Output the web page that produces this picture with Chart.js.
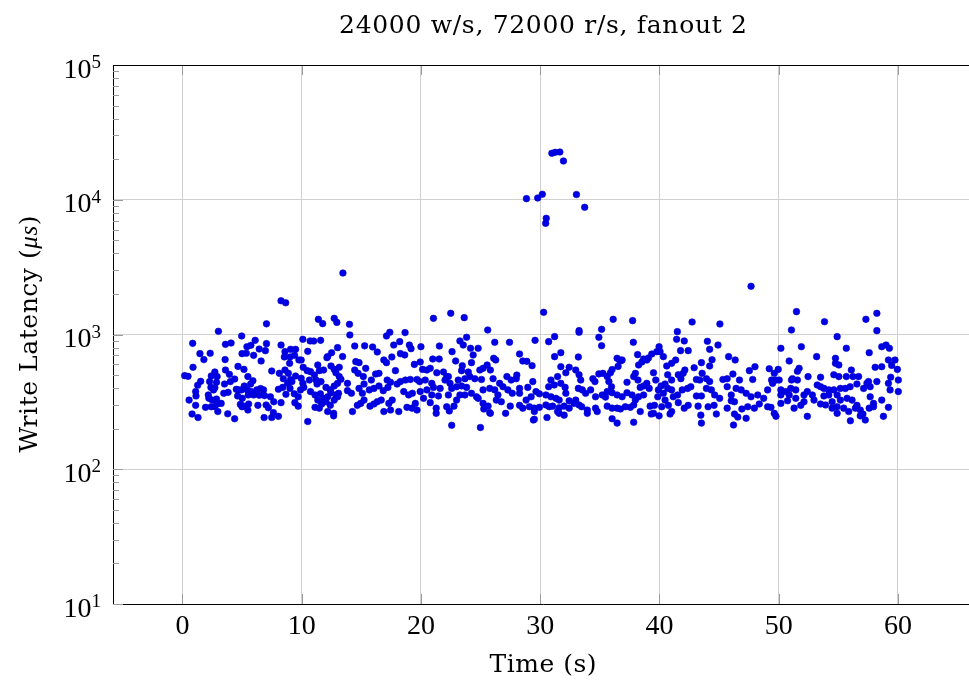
<!DOCTYPE html>
<html>
<head>
<meta charset="utf-8">
<title>Write latency - fanout 2</title>
<script src="https://cdn.jsdelivr.net/npm/chart.js@4.4.0/dist/chart.umd.min.js"></script>
<style>
    html, body { margin: 0; padding: 0; background: #fff; overflow: hidden; }
    #chartContainer { width: 977px; height: 684px; }
</style>
</head>
<body>
<div id="chartContainer"><canvas id="myChart" width="977" height="684"></canvas></div>
<script>
// samples: [time (s), write latency (us)]
// one array per ~10 s window, plus the spike around 30 s
const samples00 = [
    [8.27,1780],[8.66,1720],[7.05,1200],[3.02,1056],[4.97,975],[0.86,860],[3.61,845],[4.08,864],[6.10,905],[7.05,855],
    [5.74,831],[5.41,812],[8.27,835],[6.44,780],[6.96,759],[5.36,725],[5.00,721],[5.97,700],[1.47,721],[2.33,725],
    [1.80,651],[3.58,651],[6.60,636],[8.60,746],[9.07,776],[9.49,776],[8.55,681],[9.02,681],[9.40,700],[0.89,571],
    [8.99,611],[9.77,647],[3.61,545],[4.66,580],[5.16,551],[7.49,536],[0.19,495],[0.47,489],[2.72,527],[2.42,492],
    [2.91,487],[3.94,506],[4.38,467],[4.02,447],[5.49,487],[5.91,454],[5.72,429],[1.53,449],[1.28,420],[2.28,447],
    [2.86,442],[2.39,405],[2.72,403],[3.53,429],[4.52,392],[5.19,415],[4.94,388],[8.13,515],[8.60,545],[8.88,515],
    [8.46,470],[9.07,464],[9.49,492],[8.82,434],[9.18,447],[1.11,377],[1.14,350],[2.17,356],[2.61,388],[3.47,366],
    [3.83,372],[4.69,388],[5.44,388],[5.77,377],[6.24,388],[6.55,397],[6.80,388],[8.05,392],[8.41,405],[9.02,398],
    [0.56,326],[2.22,336],[2.50,326],[2.86,332],[2.91,305],[4.63,350],[5.02,336],[5.52,356],[5.97,356],[6.44,354],
    [6.88,352],[7.38,345],[7.66,317],[8.68,360],[9.38,363],[9.71,345],[1.11,298],[1.94,288],[2.42,291],[2.72,291],
    [3.25,308],[4.86,303],[5.13,294],[5.55,305],[6.33,298],[7.02,300],[7.21,286],[8.27,312],[9.43,312],[9.71,294],
    [0.81,257],[1.31,242],[2.97,268],[3.80,258],[4.38,237],[5.00,291],[5.49,275],[6.85,242],[7.49,242],[8.05,247],
    [7.63,263]
];
const samples10 = [
    [11.40,1296],[11.76,1204],[12.73,1318],[12.95,1230],[14.01,1190],[14.04,992],[10.10,921],[10.71,896],[11.01,894],[11.59,905],
    [10.51,750],[13.01,799],[12.51,733],[12.12,673],[12.18,686],[13.43,686],[14.45,821],[15.28,824],[15.95,808],[16.34,742],
    [17.11,975],[17.39,1038],[17.72,835],[18.22,885],[18.67,1033],[19.03,835],[19.17,785],[18.28,721],[18.64,705],[17.56,681],
    [16.89,647],[17.11,618],[9.96,647],[10.13,571],[10.46,539],[10.74,530],[11.07,500],[11.35,594],[11.48,539],[11.84,545],
    [12.46,584],[12.73,551],[12.87,520],[13.15,571],[13.15,487],[13.29,465],[13.84,434],[14.54,629],[14.81,618],[14.45,545],
    [14.73,515],[15.17,487],[15.37,561],[15.23,429],[15.84,459],[16.20,509],[16.48,515],[9.96,473],[10.10,434],[10.18,405],
    [10.65,459],[9.90,388],[11.21,459],[11.29,429],[11.62,447],[12.04,405],[12.40,388],[12.73,415],[13.01,434],[10.74,377],
    [11.12,356],[11.57,363],[11.84,336],[12.18,345],[12.46,370],[12.87,356],[13.09,366],[13.84,383],[14.17,366],[14.81,398],
    [15.09,366],[15.67,388],[16.06,398],[16.48,415],[16.84,383],[17.23,405],[17.17,459],[17.45,442],[18.00,429],[18.28,447],
    [18.70,459],[19.11,464],[17.86,539],[18.56,377],[18.97,356],[19.28,366],[11.35,326],[11.68,305],[12.04,317],[12.40,298],
    [12.73,326],[13.01,345],[11.12,288],[11.48,284],[12.18,268],[12.68,260],[12.68,249],[14.26,268],[14.67,298],[14.95,308],
    [15.23,326],[15.73,294],[16.06,305],[16.34,317],[16.67,326],[16.89,268],[17.45,275],[18.14,268],[17.31,308],[17.59,326],
    [18.83,288],[19.25,284],[10.51,226],[13.46,2858]
];
const samples20 = [
    [21.05,1318],[22.50,1436],[23.63,1334],[25.60,1080],[23.83,953],[20.00,812],[21.55,821],[23.27,896],[23.55,835],[24.16,790],
    [24.80,790],[22.61,746],[26.19,875],[27.43,875],[29.57,905],[19.94,625],[20.99,658],[21.53,658],[22.91,636],[23.47,587],
    [24.24,618],[24.38,705],[26.10,666],[26.27,647],[28.27,717],[28.54,636],[28.88,632],[29.32,587],[20.14,551],[20.50,545],
    [20.78,561],[21.33,520],[21.89,527],[22.16,487],[23.41,539],[23.97,527],[24.10,487],[24.94,545],[25.21,561],[25.55,594],
    [25.82,545],[19.45,600],[19.67,464],[19.89,447],[20.36,459],[20.91,434],[22.02,459],[22.30,487],[22.44,434],[23.13,459],
    [23.69,470],[24.52,470],[25.08,464],[26.05,470],[26.60,434],[27.21,487],[27.57,459],[27.99,470],[28.04,500],[28.27,398],
    [28.96,405],[29.38,447],[19.94,377],[20.50,388],[21.05,405],[21.61,398],[20.22,336],[20.91,356],[21.47,350],[22.30,356],
    [22.58,398],[22.99,410],[23.41,415],[23.83,405],[23.27,356],[23.69,356],[24.24,366],[24.66,345],[25.21,388],[25.77,398],
    [26.19,388],[26.46,356],[26.88,410],[27.29,388],[27.66,366],[28.27,366],[28.82,326],[29.24,345],[19.53,308],[19.67,275],
    [20.78,312],[21.28,284],[22.16,291],[22.77,294],[22.99,326],[24.80,336],[25.21,308],[25.63,294],[25.77,263],[26.32,326],
    [26.74,317],[27.49,294],[28.27,298],[28.54,284],[29.10,291],[29.51,268],[21.28,260],[22.38,271],[25.27,280],[25.82,260],
    [27.10,260],[22.58,212],[24.99,204],[29.43,232]
];
const samples30 = [
    [30.29,1461],[33.26,1068],[33.26,1038],[35.15,1092],[36.12,1296],[37.75,1267],[34.92,953],[35.15,826],[37.81,875],[30.71,885],
    [31.21,964],[31.21,685],[31.73,733],[33.20,681],[36.45,666],[36.81,640],[38.17,709],[38.67,658],[39.08,670],[39.36,717],
    [31.73,577],[32.15,520],[32.43,571],[32.98,545],[33.26,503],[33.40,459],[30.90,459],[31.18,422],[31.46,487],[30.71,410],
    [31.73,434],[32.09,405],[34.42,470],[34.59,447],[34.92,510],[35.26,515],[35.62,487],[35.89,520],[36.03,549],[36.53,580],
    [36.64,647],[36.87,647],[35.76,447],[35.98,410],[35.62,377],[37.28,442],[37.84,487],[37.98,515],[38.20,459],[38.25,594],
    [38.53,625],[38.94,647],[38.39,405],[38.67,415],[38.94,434],[39.14,398],[29.65,377],[29.93,363],[30.48,356],[30.90,345],
    [31.32,336],[31.59,326],[32.15,366],[32.43,322],[32.98,326],[33.20,398],[33.53,388],[33.81,366],[34.23,388],[34.64,345],
    [35.20,356],[35.48,343],[36.03,370],[36.45,356],[36.87,345],[37.28,370],[37.70,356],[37.98,326],[38.25,345],[38.67,356],
    [29.51,284],[29.93,288],[30.48,300],[30.76,291],[31.04,294],[31.59,286],[32.01,294],[32.43,284],[32.84,308],[33.26,300],
    [33.48,291],[33.95,275],[33.95,260],[34.64,284],[34.78,268],[35.62,294],[36.03,284],[36.45,284],[36.73,280],[37.14,291],
    [37.56,288],[37.84,300],[38.39,268],[39.22,294],[31.59,260],[32.01,252],[31.46,268],[30.57,242],[29.51,235],[36.03,237],
    [36.45,220],[37.84,223],[39.31,257],[39.50,260]
];
const samples40 = [
    [47.68,2278],[42.74,1238],[45.07,1197],[41.50,1050],[41.44,921],[42.08,896],[42.41,759],[41.77,759],[44.02,890],[44.21,776],
    [44.91,835],[39.97,812],[40.05,746],[39.78,746],[40.33,685],[41.36,647],[41.02,611],[40.61,584],[43.52,618],[44.41,650],
    [44.21,584],[45.80,685],[46.35,647],[42.91,567],[43.58,515],[42.13,545],[41.99,515],[39.50,520],[39.69,459],[40.14,415],
    [40.47,429],[40.69,503],[41.02,459],[41.58,503],[41.80,470],[43.10,464],[43.38,459],[43.94,470],[44.21,447],[45.32,464],
    [45.68,470],[46.16,509],[46.71,459],[47.54,539],[48.01,577],[47.82,464],[49.21,557],[49.40,459],[39.91,388],[40.33,366],
    [40.69,398],[41.02,388],[39.86,345],[40.47,326],[41.16,345],[41.52,356],[41.91,388],[42.36,398],[42.63,410],[43.10,350],
    [43.52,350],[43.94,398],[44.35,388],[44.63,356],[45.05,336],[45.68,410],[46.02,356],[46.43,398],[46.85,388],[47.27,366],
    [47.68,345],[48.24,356],[48.74,336],[49.07,388],[39.58,298],[40.19,291],[40.75,298],[41.02,268],[41.58,312],[42.08,284],
    [42.41,298],[43.24,294],[44.08,291],[44.58,298],[44.77,257],[45.68,284],[46.02,322],[46.29,317],[46.91,280],[47.40,291],
    [47.96,284],[48.37,305],[49.07,291],[39.97,249],[40.89,257],[43.52,220],[43.47,252],[46.29,257],[46.57,244],[46.21,213],
    [47.27,239]
];
const samples50 = [
    [51.49,1478],[53.84,1245],[57.31,1296],[58.23,1436],[58.23,1068],[51.07,1080],[54.90,964],[50.18,790],[51.90,812],[55.67,790],
    [57.59,733],[58.64,812],[59.00,835],[59.28,790],[50.88,636],[53.18,685],[54.76,666],[54.76,611],[55.04,594],[58.09,571],
    [58.64,577],[59.20,647],[59.75,647],[59.47,590],[59.95,551],[49.96,551],[49.63,515],[49.77,459],[50.04,459],[51.71,561],
    [51.57,533],[51.15,470],[51.07,459],[51.57,459],[52.46,487],[53.51,482],[54.62,503],[55.04,487],[55.67,487],[56.09,545],
    [56.23,487],[56.70,487],[55.99,410],[56.56,429],[57.12,398],[57.40,434],[57.67,410],[57.53,447],[58.23,447],[59.20,434],
    [59.39,482],[60.03,459],[59.34,388],[60.03,377],[49.49,434],[50.18,388],[50.60,377],[51.01,398],[51.43,388],[50.18,356],
    [50.88,356],[51.43,336],[52.12,356],[52.40,377],[52.82,356],[53.23,422],[53.51,410],[53.79,398],[54.20,388],[54.62,388],
    [54.90,356],[55.17,398],[55.59,398],[53.79,350],[54.20,356],[54.48,317],[55.17,326],[55.73,336],[56.15,326],[56.56,298],
    [57.67,345],[57.95,308],[58.64,326],[49.35,288],[49.63,260],[49.77,247],[50.18,308],[50.74,322],[51.29,284],[51.85,298],
    [52.12,317],[52.96,326],[53.51,305],[53.93,300],[54.48,284],[54.90,260],[54.90,291],[55.45,284],[55.87,268],[56.84,275],
    [56.43,284],[57.06,257],[57.26,232],[57.59,284],[57.95,291],[58.78,247],[59.20,288],[52.40,247],[56.01,229],[56.84,249]
];
// the slow writes around 29-34 s
const spikeSamples = [
    [30.98,22130],[31.26,22490],[31.65,22600],[31.95,19390],[28.85,10190],[29.79,10300],
    [30.18,10980],[33.04,10930],[33.73,8790],[30.51,7280],[30.46,6680]
];

const titleText = '24000 w/s, 72000 r/s, fanout 2';
const xTicks = [0, 10, 20, 30, 40, 50, 60];
const yDecades = [1, 2, 3, 4, 5]; // exponents -> 10^1 .. 10^5

const allSamples = [].concat(samples00, samples10, samples20, samples30, samples40, samples50, spikeSamples);

const textFont = "'DejaVu Serif', serif";
const mathFont = "'Liberation Serif', 'Times New Roman', serif";
const gridColor = '#d0d0d0';
const tickColor = '#9a9a9a';

// writes a string stretched (letter spacing) to a given width
function fittedText(ctx, text, x, y, width) {
    ctx.letterSpacing = '0px';
    const w = ctx.measureText(text).width;
    const sp = (width - w) / Math.max(text.length - 1, 1);
    ctx.letterSpacing = sp.toFixed(2) + 'px';
    ctx.textAlign = 'left';
    ctx.fillText(text, x - width / 2, y);
    ctx.letterSpacing = '0px';
}

// everything that pgfplots draws and chart.js does not: inner ticks, top line, labels
const decorations = {
    id: 'decorations',
    afterDraw(chart) {
        const ctx = chart.ctx;
        const area = chart.chartArea;
        const xs = chart.scales.x;
        const ys = chart.scales.y;
        ctx.save();

        // tick marks pointing inside
        ctx.strokeStyle = tickColor;
        ctx.lineWidth = 1;
        ctx.beginPath();
        xTicks.forEach(v => {
            const px = Math.round(xs.getPixelForValue(v)) + 0.5;
            ctx.moveTo(px, area.bottom);
            ctx.lineTo(px, area.bottom - 10);
            ctx.moveTo(px, area.top);
            ctx.lineTo(px, area.top + 10);
        });
        yDecades.forEach(e => {
            const py = Math.round(ys.getPixelForValue(Math.pow(10, e))) + 0.5;
            ctx.moveTo(area.left, py);
            ctx.lineTo(area.left + 10, py);
            if (e < 5) {
                for (let m = 2; m <= 9; m++) {
                    const pm = Math.round(ys.getPixelForValue(m * Math.pow(10, e))) + 0.5;
                    ctx.moveTo(area.left, pm);
                    ctx.lineTo(area.left + 6, pm);
                }
            }
        });
        ctx.stroke();

        // top border
        ctx.strokeStyle = '#000';
        ctx.beginPath();
        ctx.moveTo(area.left, Math.round(area.top) + 0.5);
        ctx.lineTo(area.right, Math.round(area.top) + 0.5);
        ctx.stroke();

        ctx.fillStyle = '#000';
        ctx.textBaseline = 'alphabetic';

        // x tick labels
        ctx.font = '28px ' + mathFont;
        ctx.textAlign = 'center';
        xTicks.forEach(v => {
            ctx.fillText(String(v), xs.getPixelForValue(v), 634);
        });

        // y tick labels 10^n
        yDecades.forEach(e => {
            const py = ys.getPixelForValue(Math.pow(10, e));
            ctx.font = '19px ' + mathFont;
            const wSup = ctx.measureText(String(e)).width;
            ctx.textAlign = 'right';
            ctx.fillText(String(e), 101, py + 3);
            ctx.font = '28px ' + mathFont;
            ctx.fillText('10', 101 - wSup, py + 12.5);
        });

        // title and x label
        const mid = (area.left + area.right) / 2;
        ctx.font = '25px ' + textFont;
        fittedText(ctx, titleText, mid, 33, 408);
        ctx.font = '25px ' + textFont;
        fittedText(ctx, 'Time (s)', mid, 672, 107);

        // y label, rotated, with italic mu s - spaced out to the reference length
        ctx.translate(37, 334);
        ctx.rotate(-Math.PI / 2);
        const partA = 'Write Latency (';
        const partB = '\u03bcs';
        const partC = ')';
        const fontA = '25px ' + textFont;
        const fontB = 'italic 25px ' + mathFont;
        ctx.font = fontA;
        const wA = ctx.measureText(partA).width;
        const wC = ctx.measureText(partC).width;
        ctx.font = fontB;
        const wB = ctx.measureText(partB).width;
        const target = 237;
        const sp = (target - (wA + wB + wC)) / (partA.length + partB.length + partC.length - 1);
        ctx.letterSpacing = sp.toFixed(2) + 'px';
        ctx.font = fontA;
        const sA = ctx.measureText(partA).width;
        ctx.font = fontB;
        const sB = ctx.measureText(partB).width;
        let x0 = -target / 2;
        ctx.textAlign = 'left';
        ctx.font = fontA;
        ctx.fillText(partA, x0, 0);
        ctx.font = fontB;
        ctx.fillText(partB, x0 + sA, 0);
        ctx.font = fontA;
        ctx.fillText(partC, x0 + sA + sB, 0);
        ctx.letterSpacing = '0px';

        ctx.restore();
    }
};

const ctx = document.getElementById('myChart').getContext('2d');
const myChart = new Chart(ctx, {
    type: 'scatter',
    data: {
        datasets: [{
            label: 'write latency',
            data: allSamples.map(s => ({ x: s[0], y: s[1] })),
            pointRadius: 3.3,
            pointHoverRadius: 3.3,
            backgroundColor: 'rgb(0, 0, 230)',
            borderColor: 'rgb(0, 0, 200)',
            borderWidth: 0.6,
        }]
    },
    options: {
        responsive: false,
        animation: false,
        events: [],
        layout: { padding: { top: 65, left: 0, right: 0, bottom: 0 } },
        plugins: {
            legend: { display: false },
            title: { display: false },
            tooltip: { enabled: false },
        },
        scales: {
            x: {
                type: 'linear',
                min: -5.82,
                max: 66.3,
                afterBuildTicks: s => { s.ticks = xTicks.map(v => ({ value: v })); },
                afterFit: s => { s.height = 80; },
                ticks: { display: false },
                grid: { color: gridColor, drawTicks: false },
                border: { display: true, color: '#000', width: 1 },
            },
            y: {
                type: 'logarithmic',
                min: 10,
                max: 100000,
                afterBuildTicks: s => { s.ticks = yDecades.map(e => ({ value: Math.pow(10, e) })); },
                afterFit: s => { s.width = 113; },
                ticks: { display: false },
                grid: { color: gridColor, drawTicks: false },
                border: { display: true, color: '#000', width: 1 },
            }
        }
    },
    plugins: [decorations]
});
</script>
</body>
</html>
